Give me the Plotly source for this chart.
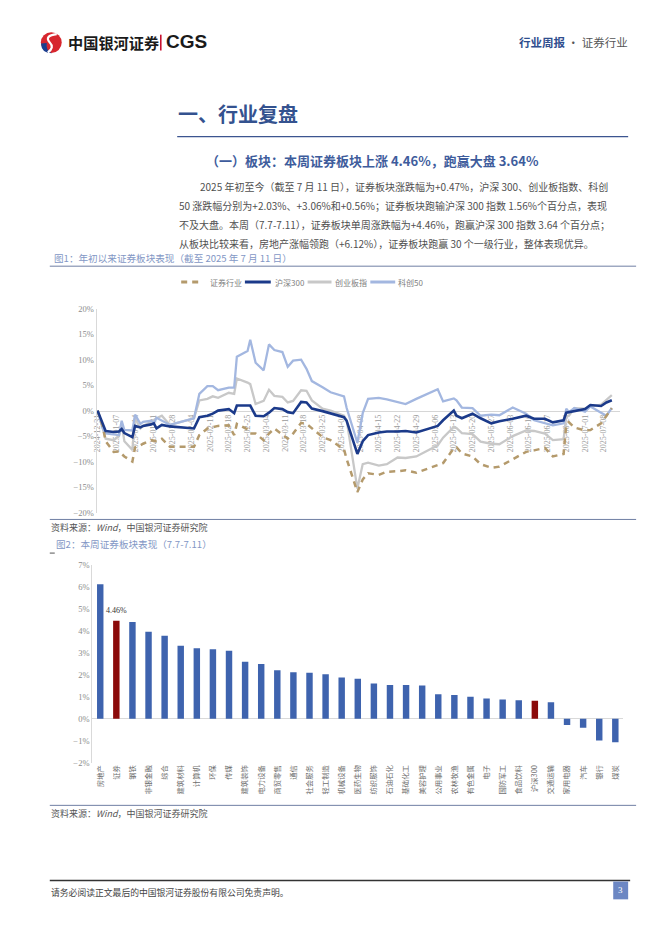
import plotly.graph_objects as go

W, H = 662, 936
def px(x): return x / W
def py(y): return 1 - y / H

# ---------------- Chart 1 data (cumulative % since 2024-12-31) ----------------
dates = ["2024-12-31","2025-01-02","2025-01-03","2025-01-06","2025-01-08","2025-01-09","2025-01-10",
         "2025-01-13","2025-01-14","2025-01-16","2025-01-17","2025-01-20","2025-01-21","2025-01-22",
         "2025-01-24","2025-01-27","2025-02-05","2025-02-07","2025-02-10","2025-02-12","2025-02-14",
         "2025-02-18","2025-02-20","2025-02-21","2025-02-25","2025-02-26","2025-02-28","2025-03-03",
         "2025-03-05","2025-03-07","2025-03-10","2025-03-12","2025-03-14","2025-03-17","2025-03-19",
         "2025-03-21","2025-03-25","2025-03-28","2025-04-02","2025-04-03","2025-04-07","2025-04-09",
         "2025-04-11","2025-04-15","2025-04-18","2025-04-22","2025-04-25","2025-04-29","2025-05-07",
         "2025-05-09","2025-05-13","2025-05-14","2025-05-16","2025-05-20","2025-05-23","2025-05-27",
         "2025-05-30","2025-06-04","2025-06-09","2025-06-12","2025-06-16","2025-06-19","2025-06-23",
         "2025-06-24","2025-06-25","2025-06-27","2025-07-01","2025-07-03","2025-07-07","2025-07-09",
         "2025-07-11"]
kc50 = [0, -3.5, -4.5, -4.7, -4.8, -2.0, -3.8, -3.9, -0.8, -2.6, -2.2, -2.0, -2.4, -1.4, -2.0, -2.8,
        -1.5, 3.3, 4.8, 4.8, 4.0, 4.5, 4.5, 10.6, 11.7, 13.9, 9.4, 7.9, 13.0, 11.9, 11.5, 8.6, 9.8,
        10.0, 8.2, 5.8, 4.6, 3.6, 2.8, 0.5, -6.3, -0.5, 2.3, 2.5, 2.2, 1.7, 1.3, 2.3, 4.2, 1.8, 2.4,
        2.0, 0.6, 0.5, -1.0, -0.8, -0.9, 0.6, -0.6, -1.9, -2.5, -2.9, -2.5, 0.4, -0.3, 0.5, -0.2,
        0.8, -0.4, -1.0, 0.56]
hs300 = [0, -2.5, -4.0, -4.2, -4.1, -3.6, -4.4, -5.2, -3.0, -3.3, -3.0, -2.7, -2.5, -3.5, -2.8, -3.1,
         -3.5, -1.3, -1.0, -0.6, 0.0, 0.3, -0.5, 1.0, 0.9, 1.0, -1.0, -1.1, -0.4, 0.5, 0.3, -0.3, -0.5,
         1.7, 1.6, 0.4, -0.1, -0.5, -1.3, -2.0, -8.5, -6.0, -4.8, -4.3, -4.1, -4.1, -4.0, -4.3, -3.0,
         -1.9, 0.0, -1.0, -1.5, -0.6, -1.5, -2.5, -2.1, -1.6, -1.0, -1.6, -1.6, -2.3, -1.9, -0.4, -0.3,
         -0.2, 0.3, 1.1, 0.9, 1.6, 2.03]
cyb = [0, -3.5, -5.5, -5.8, -5.0, -2.6, -6.0, -7.7, -1.5, -3.5, -3.0, -2.2, -1.8, -1.5, -1.0, -2.8,
       -1.5, 2.0, 2.3, 2.8, 2.5, 3.5, 3.3, 6.3, 5.5, 5.2, 1.3, 1.9, 4.1, 2.9, 2.7, 1.6, 1.9, 4.0, 3.9,
       2.0, 0.4, 0.0, -1.0, -1.9, -15.3, -10.5, -10.2, -10.8, -10.5, -9.2, -9.3, -9.0, -6.8, -5.3,
       -3.2, -3.4, -4.4, -4.6, -6.1, -6.5, -6.6, -5.0, -3.9, -4.0, -4.5, -5.8, -5.6, -1.1, -1.0, 0.5,
       0.4, 0.8, 1.2, 2.2, 3.06]
zq = [0, -3.2, -6.0, -8.1, -8.0, -8.5, -9.0, -10.0, -7.2, -6.8, -6.5, -5.8, -5.9, -6.0, -5.5, -7.1,
      -7.1, -4.8, -3.5, -3.2, -3.0, -2.9, -4.8, -2.6, -3.7, -4.5, -4.5, -5.8, -4.5, -3.5, -4.8, -5.5,
      -4.5, -2.4, -2.6, -3.5, -5.2, -5.8, -7.6, -9.5, -16.0, -13.5, -12.3, -12.6, -12.0, -11.9, -11.7,
      -12.2, -10.6, -10.3, -7.4, -7.2, -8.4, -9.0, -10.5, -11.2, -11.0, -9.5, -8.1, -7.8, -7.3, -9.0,
      -8.5, -2.8, -2.3, -3.3, -3.9, -3.8, -2.5, -1.0, 0.47]
tick_dates = ["2024-12-31","2025-01-07","2025-01-14","2025-01-21","2025-01-28","2025-02-04","2025-02-11",
              "2025-02-18","2025-02-25","2025-03-04","2025-03-11","2025-03-18","2025-03-25","2025-04-01",
              "2025-04-08","2025-04-15","2025-04-22","2025-04-29","2025-05-06","2025-05-13","2025-05-20",
              "2025-05-27","2025-06-03","2025-06-10","2025-06-17","2025-06-24","2025-07-01","2025-07-08"]

# ---------------- Chart 2 data (weekly % change 7.7-7.11) ----------------
industries = ["房地产","证券","钢铁","非银金融","综合","建筑材料","计算机","环保","传媒","建筑装饰",
              "电力设备","商贸零售","通信","社会服务","轻工制造","机械设备","医药生物","纺织服饰",
              "石油石化","基础化工","美容护理","公用事业","农林牧渔","有色金属","电子","国防军工",
              "食品饮料","沪深300","交通运输","家用电器","汽车","银行","煤炭"]
weekly_chg = [6.12, 4.46, 4.40, 3.96, 3.78, 3.33, 3.21, 3.16, 3.10, 2.60, 2.49, 2.21, 2.12, 2.10, 2.03,
              1.88, 1.82, 1.61, 1.54, 1.54, 1.52, 1.12, 1.09, 1.01, 0.93, 0.88, 0.85, 0.82, 0.76,
              -0.28, -0.40, -0.99, -1.06]
highlight = ["证券", "沪深300"]
label_name = "证券"

CJK = "Noto Sans CJK SC"
SERIF = "Liberation Serif"

series = [  # name, values, color, width, dash
    ("证券行业", zq, "#B49A6C", 2.5, "6px,5px"),
    ("沪深300", hs300, "#1B3A8A", 2.6, "solid"),
    ("创业板指", cyb, "#C8C8C8", 2.3, "solid"),
    ("科创50", kc50, "#A3B7E0", 2.3, "solid"),
]
draw_order = [2, 3, 0, 1]

fig = go.Figure()
for i in draw_order:
    name, vals, color, width, dash = series[i]
    fig.add_trace(go.Scatter(x=dates, y=vals, name=name, mode="lines", showlegend=False,
                             line=dict(color=color, width=width, dash=dash)))

bar_colors = ["#8B0A0A" if n in highlight else "#3E63AE" for n in industries]
fig.add_trace(go.Bar(x=industries, y=weekly_chg, marker=dict(color=bar_colors, line=dict(width=0)),
                     xaxis="x2", yaxis="y2", showlegend=False))

zero_pos = 1 - 410 / H
fig.update_layout(
    width=W, height=H, autosize=False,
    margin=dict(l=0, r=0, t=0, b=0),
    paper_bgcolor="white", plot_bgcolor="rgba(0,0,0,0)",
    bargap=0.6,
    showlegend=False,
    xaxis=dict(domain=[px(94), px(620)], type="date",
               range=["2024-12-30 15:00", "2025-07-14 03:00"],
               anchor="free", position=zero_pos, showline=True, linecolor="#D6D6D6", linewidth=1,
               tickvals=tick_dates, tickformat="%Y-%m-%d", tickangle=-90, ticks="",
               tickfont=dict(family=SERIF, size=8, color="#9A9A9A"),
               showgrid=False, zeroline=False, layer="below traces", fixedrange=True),
    yaxis=dict(domain=[py(513), py(307)], range=[-20, 20], dtick=5, ticksuffix="%",
               anchor="x", showline=True, linecolor="#D9D9D9", linewidth=1, showgrid=False,
               zeroline=False, ticks="", tickfont=dict(family=SERIF, size=8.5, color="#8C8C8C"),
               fixedrange=True),
    xaxis2=dict(domain=[px(89.6), px(623.2)], anchor="y2", type="category", tickangle=-90,
                ticks="", showline=False, showgrid=False,
                tickfont=dict(family=CJK, size=7.3, color="#6E6E6E"), fixedrange=True),
    yaxis2=dict(domain=[py(766), py(566)], range=[-2, 7], dtick=1, ticksuffix="%", anchor="x2",
                showline=True, linecolor="#D9D9D9", linewidth=1, showgrid=False, zeroline=True,
                zerolinecolor="#D9D9D9", zerolinewidth=1, ticks="",
                tickfont=dict(family=SERIF, size=8.5, color="#8C8C8C"), fixedrange=True),
)

shapes = []
annotations = []
def hline(y, x0, x1, color, width=1, dash="solid"):
    shapes.append(dict(type="line", xref="paper", yref="paper", x0=px(x0), x1=px(x1),
                       y0=py(y), y1=py(y), line=dict(color=color, width=width, dash=dash)))

def text(x, y, s, size, color="#444444", family=CJK, anchor="left"):
    annotations.append(dict(xref="paper", yref="paper", x=px(x), y=py(y), text=s, showarrow=False,
                            xanchor=anchor, yanchor="middle",
                            font=dict(family=family, size=size, color=color)))

# manual legend (compact, as in the source figure)
legend_pos = [(179, 198, 206), (243, 269, 271), (306, 330, 331), (369, 394, 395)]
for (name, vals, color, width, dash), (sx0, sx1, tx) in zip(series, legend_pos):
    hline(280, sx0, sx1, color, 3, dash)
    text(tx, 280, name, 8, "#808080")

hline(133, 175, 628, "#3C5590", 1.2)
hline(264, 47, 636, "#6F7FA3", 1)
hline(520, 47, 636, "#6F7FA3", 1)
hline(809, 47, 636, "#6F7FA3", 1)
hline(885, 47, 630, "#333333", 1.5)
hline(554, 47, 52, "#555555", 1)
shapes.append(dict(type="line", xref="paper", yref="paper", x0=px(158.5), x1=px(158.5),
                   y0=py(30), y1=py(46), line=dict(color="#C8102E", width=1.6)))
shapes.append(dict(type="circle", xref="paper", yref="paper", x0=px(38), x1=px(59),
                   y0=py(48.5), y1=py(27.5), fillcolor="#D7262E", line=dict(width=0)))
blue = (f"M {px(38.2)} {py(39)} Q {px(38.5)} {py(48.8)} {px(49)} {py(48.7)} "
        f"Q {px(42.5)} {py(46)} {px(44)} {py(38.5)} Z")
shapes.append(dict(type="path", xref="paper", yref="paper", path=blue,
                   fillcolor="#1B3F8F", line=dict(width=0)))
swirl = (f"M {px(54)} {py(29.5)} Q {px(41)} {py(31)} {px(47)} {py(38)} "
         f"Q {px(52)} {py(43)} {px(45)} {py(48)}")
shapes.append(dict(type="path", xref="paper", yref="paper", path=swirl,
                   line=dict(color="white", width=2.2)))
shapes.append(dict(type="rect", xref="paper", yref="paper", x0=px(613), x1=px(628),
                   y0=py(904), y1=py(886), fillcolor="#6C87C3", line=dict(width=0)))

text(63, 37, "<b>中国银河证券</b>", 15.2, "#1A1A1A")
text(162, 37, "<b>CGS</b>", 19, "#1A1A1A", "Liberation Sans")
text(630, 37, "<b><span style='color:#2F4E8E'>行业周报</span></b>"
              "<span style='color:#555555'> · 证券行业</span>", 11.5, "#555555", CJK, "right")
text(174, 110, "<b>一、行业复盘</b>", 20, "#34528F")
text(202, 157, "<b>（一）板块：本周证券板块上涨 4.46%，跑赢大盘 3.64%</b>", 13, "#3E5C9C")
para = [
    (196, "2025 年初至今（截至 7 月 11 日），证券板块涨跌幅为+0.47%，沪深 300、创业板指数、科创"),
    (175, "50 涨跌幅分别为+2.03%、+3.06%和+0.56%；证券板块跑输沪深 300 指数 1.56%个百分点，表现"),
    (175, "不及大盘。本周（7.7-7.11），证券板块单周涨跌幅为+4.46%，跑赢沪深 300 指数 3.64 个百分点；"),
    (175, "从板块比较来看，房地产涨幅领跑（+6.12%），证券板块跑赢 30 个一级行业，整体表现优异。"),
]
for (x0, line), y in zip(para, [183, 203, 222, 241]):
    text(x0, y, line, 10, "#505050")
text(49, 256, "图1：年初以来证券板块表现（截至 2025 年 7 月 11 日）", 9.6, "#8397C5")
text(46, 528, "资料来源：<i>Wind</i>，中国银河证券研究院", 9, "#555555")
text(51, 545, "图2：本周证券板块表现（7.7-7.11）", 9.6, "#8397C5")
text(46, 817, "资料来源：<i>Wind</i>，中国银河证券研究院", 9, "#555555")
text(46, 897, "请务必阅读正文最后的中国银河证券股份有限公司免责声明。", 8.8, "#444444")
text(620.5, 895, "3", 9, "white", SERIF, "center")

idx = industries.index(label_name)
annotations.append(dict(xref="x2", yref="y2", x=industries[idx], y=weekly_chg[idx],
                        text=f"{weekly_chg[idx]:.2f}%", showarrow=False, yanchor="bottom", yshift=4,
                        font=dict(family=SERIF, size=8, color="#333333")))

fig.update_layout(shapes=shapes, annotations=annotations)
fig.write_html("out.html", config={"displayModeBar": False},
               post_script="document.body.style.margin='0';document.body.style.padding='0';"
                           "document.documentElement.style.overflow='hidden';")
